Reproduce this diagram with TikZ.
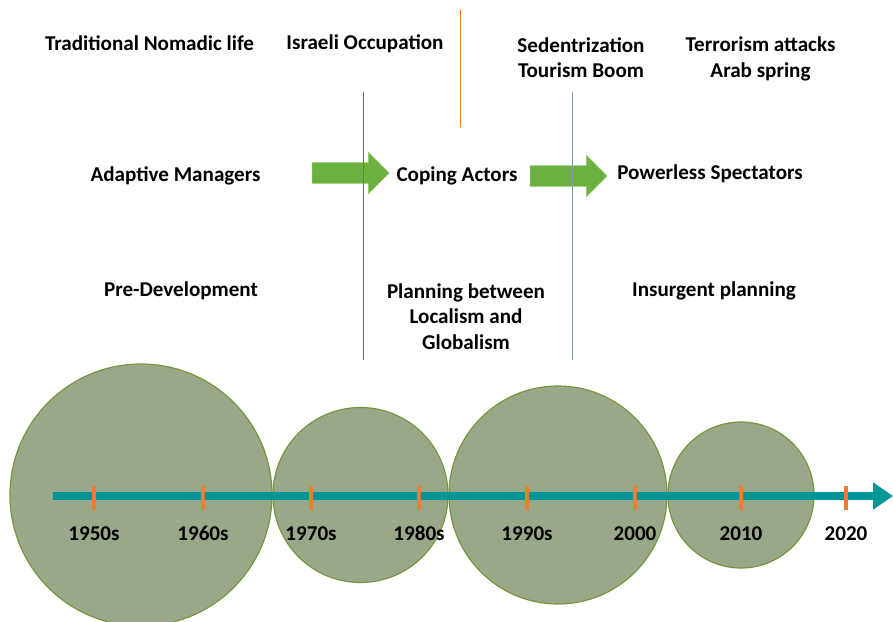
\documentclass[tikz,border=0pt]{standalone}
\usepackage{fontspec}
\setmainfont{Carlito}
\usetikzlibrary{arrows.meta, shapes.arrows}
\definecolor{bubblefill}{RGB}{154,168,138}
\definecolor{bubbleedge}{RGB}{118,150,62}
\definecolor{axisteal}{RGB}{0,150,150}
\definecolor{tickorange}{RGB}{237,125,49}
\definecolor{shiftgreen}{RGB}{108,176,62}
\definecolor{sepblue}{RGB}{90,115,170}
\definecolor{sepgray}{RGB}{135,150,176}

\begin{document}
\begin{tikzpicture}[x=1pt,y=-1pt,
  font=\fontsize{21.1}{25.5}\selectfont\bfseries,
  txt/.style={align=center, inner sep=0pt},
  bubble/.style={fill=bubblefill, draw=bubbleedge, line width=1.2pt},
  shiftarrow/.style={single arrow, fill=shiftgreen, draw=shiftgreen!70!white, line width=0.6pt,
    minimum height=77pt, inner xsep=0pt, inner ysep=10pt, text height=0pt, text depth=0pt,
    single arrow head extend=10.5pt, single arrow head indent=0pt},
  yeartick/.style={tickorange, line width=4.5pt}]
\useasboundingbox (0,0) rectangle (893,621);

% periods as bubbles
\draw[bubble] (141,495) circle (131);
\draw[bubble] (360.5,495) circle (87.5);
\draw[bubble] (558,495) circle (109);
\draw[bubble] (741,495) circle (73);

% events
\node[txt] (nomadic) at (149.5,43) {Traditional Nomadic life};
\node[txt] (occupation) at (365,44) {Israeli Occupation};
\node[txt] (sedent) at (581,57.5) {Sedentrization\\Tourism Boom};
\node[txt] (terror) at (760.5,59) {Terrorism attacks\\Arab spring};

% actors
\node[txt] (adaptive) at (175.5,176) {Adaptive Managers};
\node[txt] (coping) at (457,176) {Coping Actors};
\node[txt] (powerless) at (710,174) {Powerless Spectators};
\node[shiftarrow] (shift1) at (345.5,173) {};
\node[shiftarrow] (shift2) at (563.5,176) {};

% separators
\coordinate (s1top) at (363,92);
\coordinate (s1bot) at (363,360);
\coordinate (s2top) at (572,92);
\coordinate (s2bot) at (572,360);
\coordinate (o1top) at (460,10);
\coordinate (o1bot) at (460,127);
\draw[sepblue, line width=0.8pt] (s1top) -- (s1bot);
\draw[sepgray, line width=1pt] (s2top) -- (s2bot);
\draw[tickorange, line width=1pt] (o1top) -- (o1bot);

% planning
\node[txt] (predev) at (181,291) {Pre-Development};
\node[txt] (between) at (466,316.5) {Planning between\\Localism and\\Globalism};
\node[txt] (insurgent) at (714,291) {Insurgent planning};

% timeline
\coordinate (tlstart) at (53,496);
\coordinate (tlend) at (893,496);
\draw[axisteal, line width=8pt, -{Triangle[length=20pt,width=26pt]}] (tlstart) -- (tlend);
\foreach \x/\yr in {94/1950s, 203/1960s, 311/1970s, 419/1980s, 527/1990s, 635/2000, 741/2010, 846/2020}{
  \draw[yeartick] (\x,486) -- (\x,510);
  \node[txt, anchor=base] (yr\yr) at (\x,540) {\yr};
}

\end{tikzpicture}
\end{document}
